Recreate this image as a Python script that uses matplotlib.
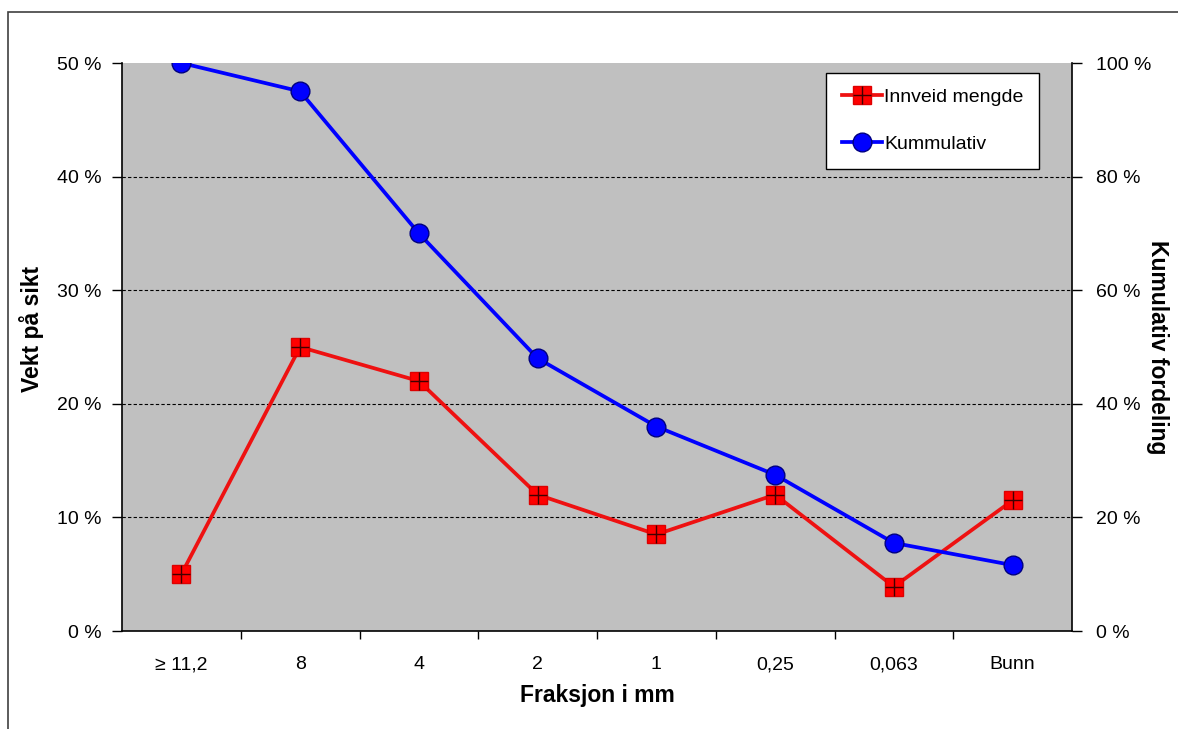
import matplotlib
matplotlib.use("Agg")
import matplotlib.pyplot as plt
from matplotlib.patches import Rectangle
from matplotlib.legend_handler import HandlerTuple
from matplotlib.ticker import FuncFormatter

plt.rcParams['font.family'] = ['Liberation Sans', 'DejaVu Sans']

categories = ["\u2265 11,2", "8", "4", "2", "1", "0,25", "0,063", "Bunn"]
innveid = [5.0, 25.0, 22.0, 12.0, 8.5, 12.0, 3.9, 11.5]
kummulativ = [100.0, 95.0, 70.0, 48.0, 36.0, 27.5, 15.5, 11.6]

W, H = 1178, 729
fig = plt.figure(figsize=(W/100, H/100), dpi=100)
fig.patches.append(Rectangle((8/W, -0.05), 1.2, 1 - 12/H + 0.05,
                             transform=fig.transFigure, fill=False,
                             edgecolor='#404040', linewidth=1.2))

ax = fig.add_axes([122/W, 1 - 631/H, 950/W, (631 - 63)/H])
ax.set_facecolor('#c0c0c0')
x = list(range(len(categories)))

ax.set_xlim(-0.5, len(categories) - 0.5)
ax.set_ylim(0, 50)
ax.set_yticks([0, 10, 20, 30, 40, 50])
ax.yaxis.set_major_formatter(FuncFormatter(lambda v, p: f"{int(v)} %"))
for yv in [10, 20, 30, 40]:
    ax.axhline(yv, color='black', linestyle=(0, (3, 2)), linewidth=0.8, zorder=1)

ax.set_xticks(x)
ax.set_xticklabels(categories)
ax.set_xticks([i + 0.5 for i in range(len(categories) - 1)], minor=True)
ax.tick_params(axis='x', which='major', length=0, pad=18, labelsize=14)
ax.tick_params(axis='x', which='minor', length=6, direction='out', width=1)
ax.tick_params(axis='y', length=7, direction='out', width=1, labelsize=14, pad=8)

ax.spines['top'].set_visible(False)
ax.spines['right'].set_visible(False)
for s in ['left', 'bottom']:
    ax.spines[s].set_linewidth(1.2)

ax2 = ax.twinx()
ax2.set_ylim(0, 100)
ax2.set_yticks([0, 20, 40, 60, 80, 100])
ax2.yaxis.set_major_formatter(FuncFormatter(lambda v, p: f"{int(v)} %"))
ax2.tick_params(axis='y', length=7, direction='out', width=1, labelsize=14, pad=10)
ax2.spines['top'].set_visible(False)
ax2.spines['left'].set_visible(False)
ax2.spines['bottom'].set_visible(False)
ax2.spines['right'].set_linewidth(1.2)

l_red, = ax.plot(x, innveid, color='#ee1111', linewidth=2.7, marker='s',
                 markersize=12.5, markerfacecolor='#ff0000',
                 markeredgecolor='#dd0000', zorder=3)
p_red, = ax.plot(x, innveid, linestyle='none', marker='+', markersize=13,
                 markeredgecolor='#400000', markeredgewidth=1.0, zorder=4)
l_blue, = ax2.plot(x, kummulativ, color='#0000ff', linewidth=2.7, marker='o',
                   markersize=13.5, markerfacecolor='#0000ff',
                   markeredgecolor='#000080', zorder=3)

leg = ax2.legend([(l_red, p_red), l_blue], ["Innveid mengde", "Kummulativ"],
                 handler_map={tuple: HandlerTuple(ndivide=1)},
                 loc='upper left', bbox_to_anchor=((826 - 122)/950, 1 - 10/568),
                 frameon=True, fancybox=False, edgecolor='black',
                 facecolor='white', framealpha=1, fontsize=14,
                 handlelength=2.1, handletextpad=0.1,
                 labelspacing=1.5, borderpad=0.8, borderaxespad=0)
leg.get_frame().set_linewidth(1.0)

ax.set_xlabel("Fraksjon i mm", fontsize=16.5, fontweight='bold', labelpad=8)
fig.text(32/W, 1 - 329/H, "Vekt på sikt", fontsize=16.5, fontweight='bold',
         rotation=90, ha='center', va='center')
fig.text(1158/W, 1 - 347/H, "Kumulativ fordeling", fontsize=16.5,
         fontweight='bold', rotation=-90, ha='center', va='center')

fig.savefig("out.png", dpi=100)
